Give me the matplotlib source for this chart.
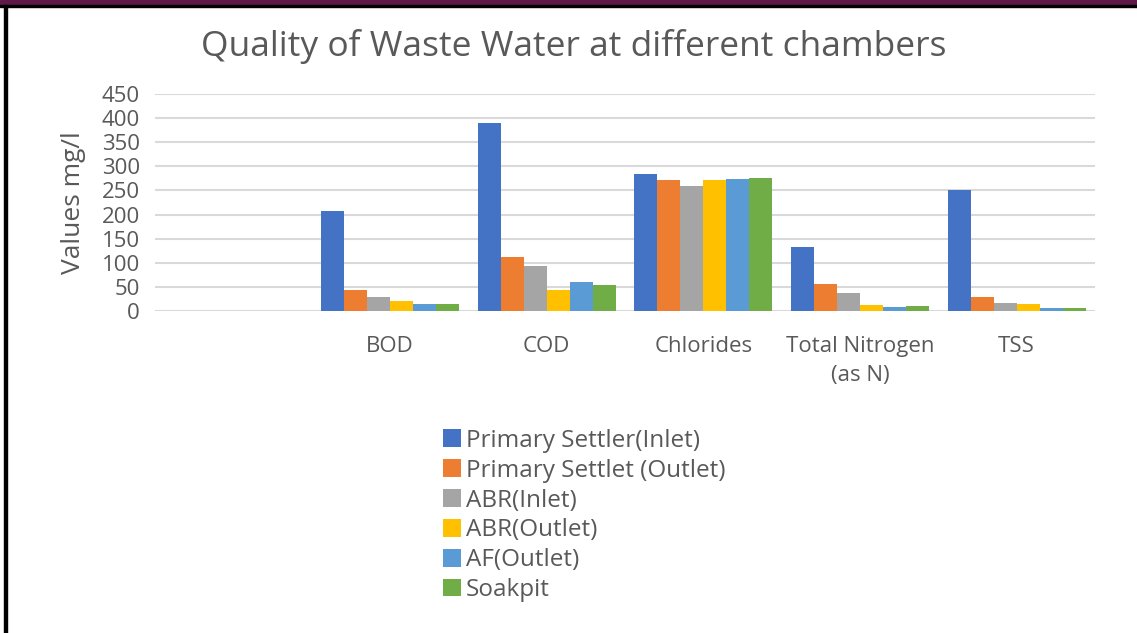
import numpy as np
import matplotlib.pyplot as plt
from matplotlib.patches import Rectangle

plt.rcParams['font.family'] = ['Open Sans', 'DejaVu Sans']

categories = ['', 'BOD', 'COD', 'Chlorides', 'Total Nitrogen\n(as N)', 'TSS']
series = ['Primary Settler(Inlet)', 'Primary Settlet (Outlet)', 'ABR(Inlet)',
          'ABR(Outlet)', 'AF(Outlet)', 'Soakpit']
# values per series, first category is empty
ps_inlet = [0, 208, 389, 285, 133, 250]
ps_outlet = [0, 43, 111, 272, 57, 28]
abr_inlet = [0, 28, 94, 259, 37, 17]
abr_outlet = [0, 20, 43, 272, 12, 15]
af_outlet = [0, 14, 61, 274, 8, 6]
soakpit = [0, 14, 53, 276, 10, 7]
colors = ['#4472c4', '#ed7d31', '#a5a5a5', '#ffc000', '#5b9bd5', '#70ad47']

values = [ps_inlet, ps_outlet, abr_inlet, abr_outlet, af_outlet, soakpit]

fig = plt.figure(figsize=(11.37, 6.33), dpi=100)
ax = fig.add_axes([155/1137, 1-311/633, 940/1137, 217/633])

x = np.arange(len(categories))
w = 0.147
for i, (name, vals, c) in enumerate(zip(series, values, colors)):
    ax.bar(x + (i - 2.5) * w, vals, w, color=c, label=name, zorder=3)

ax.set_xlim(-0.5, 5.5)
ax.set_ylim(0, 450)
ax.set_yticks(range(0, 451, 50))
ax.set_xticks(x)
ax.set_xticklabels(categories, linespacing=1.5)
ax.grid(axis='y', color='#d9d9d9', linewidth=1.5, zorder=0)
for s in ax.spines.values():
    s.set_visible(False)
ax.tick_params(length=0, labelcolor='#595959')
ax.tick_params(axis='x', pad=18, labelsize=16)
ax.tick_params(axis='y', pad=11, labelsize=16)
ax.set_ylabel('Values mg/l', fontsize=19, color='#595959', labelpad=11)

fig.text(0.505, 1-46/633, 'Quality of Waste Water at different chambers',
         ha='center', va='center', fontsize=25.5, color='#595959')

h, l = ax.get_legend_handles_labels()
fig.legend(h, l, loc='upper left', bbox_to_anchor=(421/1137, 1-407/633),
           frameon=False, fontsize=17.5, handlelength=0.75, handleheight=0.75,
           handletextpad=0.2, labelspacing=0.24, labelcolor='#595959')

# frame: maroon band and black border
fig.patches.append(Rectangle((0, 1-5/633), 1, 5/633, transform=fig.transFigure,
                             color='#5e1948', zorder=10))
fig.patches.append(Rectangle((0, 1-7/633), 1, 2/633, transform=fig.transFigure,
                             color='black', zorder=10))
fig.patches.append(Rectangle((4/1137, 0), 3/1137, 1-5/633, transform=fig.transFigure,
                             color='black', zorder=10))

fig.savefig('out.png', dpi=100)
